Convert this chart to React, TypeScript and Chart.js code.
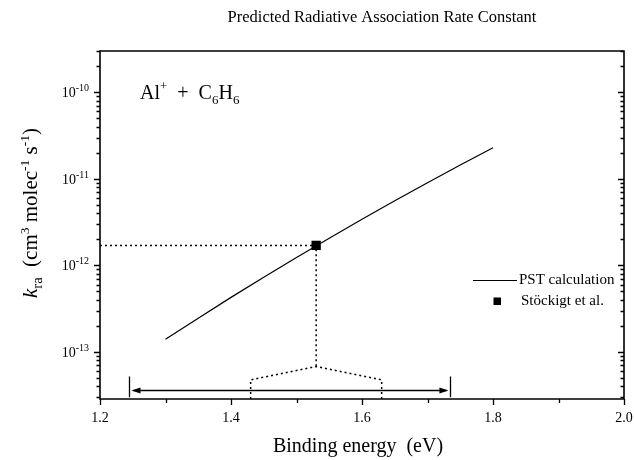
import React, { useEffect, useRef } from "react";
import { Chart, registerables } from "chart.js";

Chart.register(...registerables);

const FONT = '"Liberation Serif", "Times New Roman", serif';

// PST calculation curve (binding energy in eV, rate constant in cm3 molec-1 s-1)
const energies = [1.3, 1.35, 1.4, 1.45, 1.5, 1.55, 1.6, 1.65, 1.7, 1.75, 1.8];
const pstRates = [1.4e-13, 2.45e-13, 4.26e-13, 7.3e-13, 1.23e-12, 2.06e-12, 3.41e-12, 5.57e-12, 9.0e-12, 1.44e-11, 2.28e-11];

// Stöckigt et al. measurement
const expEnergy = [1.53];
const expRate = [1.7e-12];

// dotted guide from the measurement to the axes
const guideEnergies = [1.2, 1.53, 1.53];
const guideRates = [1.7e-12, 1.7e-12, 6.76e-14];

// dotted bracket over the energy axis
const bracketEnergies = [1.43, 1.43, 1.53, 1.63, 1.63];
const bracketRates = [2.85e-14, 4.75e-14, 6.76e-14, 4.75e-14, 2.85e-14];

// double-headed range arrow
const rangeEnergies = [1.245, 1.735];
const rangeRate = [3.64e-14];
const rangeCapRates = [5.18e-14, 2.99e-14];

// axes
const xMin = 1.2;
const xMax = 2.0;
const yMin = 2.85e-14;
const yMax = 3e-10;
const xTickValues = [1.2, 1.3, 1.4, 1.5, 1.6, 1.7, 1.8, 1.9, 2.0];
const xTickLabels = ["1.2", "", "1.4", "", "1.6", "", "1.8", "", "2.0"];
const yDecades = [-14, -13, -12, -11, -10];
const yLabelDecades = ["-13", "-12", "-11", "-10"];

const titleText = "Predicted Radiative Association Rate Constant";
const xTitle = "Binding energy  (eV)";
const legendLine = "PST calculation";
const legendPoint = "Stöckigt et al.";

type Piece = { t: string; size: number; dy?: number; italic?: boolean };

function richWidth(ctx: CanvasRenderingContext2D, pieces: Piece[]) {
  let w = 0;
  for (const p of pieces) {
    ctx.font = `${p.italic ? "italic " : ""}${p.size}px ${FONT}`;
    w += ctx.measureText(p.t).width;
  }
  return w;
}

function drawRich(ctx: CanvasRenderingContext2D, pieces: Piece[], x: number, y: number) {
  let cx = x;
  ctx.textAlign = "left";
  ctx.textBaseline = "alphabetic";
  for (const p of pieces) {
    ctx.font = `${p.italic ? "italic " : ""}${p.size}px ${FONT}`;
    ctx.fillText(p.t, cx, y + (p.dy || 0));
    cx += ctx.measureText(p.t).width;
  }
}

const decor = {
  id: "decor",
  afterDraw(chart: any) {
    const ctx: CanvasRenderingContext2D = chart.ctx;
    const xs = chart.scales.x;
    const ys = chart.scales.y;
    const { left, right, top, bottom } = chart.chartArea;
    ctx.save();
    ctx.fillStyle = "#000";
    ctx.strokeStyle = "#000";

    // frame
    ctx.lineWidth = 1.6;
    ctx.beginPath();
    ctx.rect(left, top, right - left, bottom - top);
    ctx.stroke();

    // y ticks (left outward, right inward)
    ctx.lineWidth = 1.3;
    ctx.beginPath();
    for (const e of yDecades) {
      for (let k = 1; k <= 9; k++) {
        const v = k * Math.pow(10, e);
        if (v < yMin || v > yMax) continue;
        const py = Math.round(ys.getPixelForValue(v)) + 0.5;
        const len = k === 1 ? 6 : 3.5;
        ctx.moveTo(left - len, py);
        ctx.lineTo(left, py);
        ctx.moveTo(right, py);
        ctx.lineTo(right - len, py);
      }
    }
    // x ticks
    xTickValues.forEach((v, i) => {
      const px = Math.round(xs.getPixelForValue(v)) + 0.5;
      const len = i % 2 === 0 ? 6 : 4;
      ctx.moveTo(px, bottom);
      ctx.lineTo(px, bottom + len);
    });
    ctx.stroke();

    // y tick labels
    yLabelDecades.forEach((e) => {
      const py = ys.getPixelForValue(Math.pow(10, Number(e)));
      const pieces: Piece[] = [
        { t: "10", size: 14 },
        { t: e, size: 10, dy: -6 },
      ];
      const w = richWidth(ctx, pieces);
      drawRich(ctx, pieces, 89 - w, py + 5);
    });

    // x tick labels
    ctx.font = `14px ${FONT}`;
    ctx.textAlign = "center";
    ctx.textBaseline = "middle";
    xTickValues.forEach((v, i) => {
      if (!xTickLabels[i]) return;
      ctx.fillText(xTickLabels[i], xs.getPixelForValue(v), 418);
    });

    // title
    ctx.font = `16.5px ${FONT}`;
    ctx.fillText(titleText, 382, 18);

    // x title
    ctx.font = `20px ${FONT}`;
    ctx.fillText(xTitle, 358, 447);

    // y title (rotated)
    const yPieces: Piece[] = [
      { t: "k", size: 21, italic: true },
      { t: "ra", size: 14.5, dy: 5 },
      { t: "  (cm", size: 21 },
      { t: "3", size: 13.5, dy: -8 },
      { t: " molec", size: 21 },
      { t: "-1", size: 13.5, dy: -8 },
      { t: " s", size: 21 },
      { t: "-1", size: 13.5, dy: -8 },
      { t: ")", size: 21 },
    ];
    ctx.save();
    ctx.translate(37, 213);
    ctx.rotate(-Math.PI / 2);
    const yw = richWidth(ctx, yPieces);
    drawRich(ctx, yPieces, -yw / 2, 0);
    ctx.restore();

    // reaction label
    const rPieces: Piece[] = [
      { t: "Al", size: 20 },
      { t: "+", size: 13, dy: -9 },
      { t: "  +  ", size: 20 },
      { t: "C", size: 20 },
      { t: "6", size: 13, dy: 5 },
      { t: "H", size: 20 },
      { t: "6", size: 13, dy: 5 },
    ];
    drawRich(ctx, rPieces, 140, 99);

    // legend
    ctx.lineWidth = 1;
    ctx.beginPath();
    ctx.moveTo(473, 280.5);
    ctx.lineTo(517, 280.5);
    ctx.stroke();
    ctx.fillRect(493.5, 297.5, 7.5, 7.5);
    ctx.font = `15px ${FONT}`;
    ctx.textAlign = "left";
    ctx.textBaseline = "middle";
    ctx.fillText(legendLine, 519, 280);
    ctx.fillText(legendPoint, 521, 301);

    // range arrow
    const ay = Math.round(ys.getPixelForValue(rangeRate[0])) + 0.5;
    const x1 = xs.getPixelForValue(rangeEnergies[0]);
    const x2 = xs.getPixelForValue(rangeEnergies[1]);
    const c1 = ys.getPixelForValue(rangeCapRates[0]);
    const c2 = ys.getPixelForValue(rangeCapRates[1]);
    ctx.lineWidth = 1.3;
    ctx.beginPath();
    ctx.moveTo(x1 + 4, ay);
    ctx.lineTo(x2 - 4, ay);
    ctx.moveTo(Math.round(x1) + 0.5, c1);
    ctx.lineTo(Math.round(x1) + 0.5, c2);
    ctx.moveTo(Math.round(x2) + 0.5, c1);
    ctx.lineTo(Math.round(x2) + 0.5, c2);
    ctx.stroke();
    ctx.beginPath();
    ctx.moveTo(x1 + 2, ay);
    ctx.lineTo(x1 + 11, ay - 3);
    ctx.lineTo(x1 + 11, ay + 3);
    ctx.closePath();
    ctx.moveTo(x2 - 2, ay);
    ctx.lineTo(x2 - 11, ay - 3);
    ctx.lineTo(x2 - 11, ay + 3);
    ctx.closePath();
    ctx.fill();

    ctx.restore();
  },
};

export default function App() {
  const ref = useRef<HTMLCanvasElement>(null);
  useEffect(() => {
    const canvas = ref.current!;
    const chart = new Chart(canvas, {
      type: "scatter",
      data: {
        datasets: [
          {
            label: legendPoint,
            data: expEnergy.map((x, i) => ({ x, y: expRate[i] })),
            pointStyle: "rect",
            pointRadius: 6.6,
            backgroundColor: "#000",
            borderColor: "#000",
            borderWidth: 0,
            order: 0,
          },
          {
            label: legendLine,
            data: energies.map((x, i) => ({ x, y: pstRates[i] })),
            showLine: true,
            borderColor: "#000",
            borderWidth: 1.2,
            pointRadius: 0,
            tension: 0,
            order: 1,
          },
          {
            label: "guide",
            data: guideEnergies.map((x, i) => ({ x, y: guideRates[i] })),
            showLine: true,
            borderColor: "#000",
            borderWidth: 1.5,
            borderDash: [2, 3],
            pointRadius: 0,
            order: 2,
          },
          {
            label: "bracket",
            data: bracketEnergies.map((x, i) => ({ x, y: bracketRates[i] })),
            showLine: true,
            borderColor: "#000",
            borderWidth: 1.5,
            borderDash: [2, 3],
            pointRadius: 0,
            order: 2,
          },
        ],
      },
      options: {
        animation: false,
        responsive: false,
        devicePixelRatio: 1,
        layout: { padding: { left: 100, right: 10, top: 51, bottom: 61 } },
        plugins: {
          legend: { display: false },
          title: { display: false },
          tooltip: { enabled: false },
        },
        scales: {
          x: { type: "linear", min: xMin, max: xMax, display: false },
          y: { type: "logarithmic", min: yMin, max: yMax, display: false },
        },
      },
      plugins: [decor],
    } as any);
    return () => chart.destroy();
  }, []);
  return (
    <div style={{ position: "absolute", left: 0, top: 0, width: 634, height: 460, background: "#fff" }}>
      <canvas ref={ref} width={634} height={460} style={{ display: "block", width: 634, height: 460 }} />
    </div>
  );
}
